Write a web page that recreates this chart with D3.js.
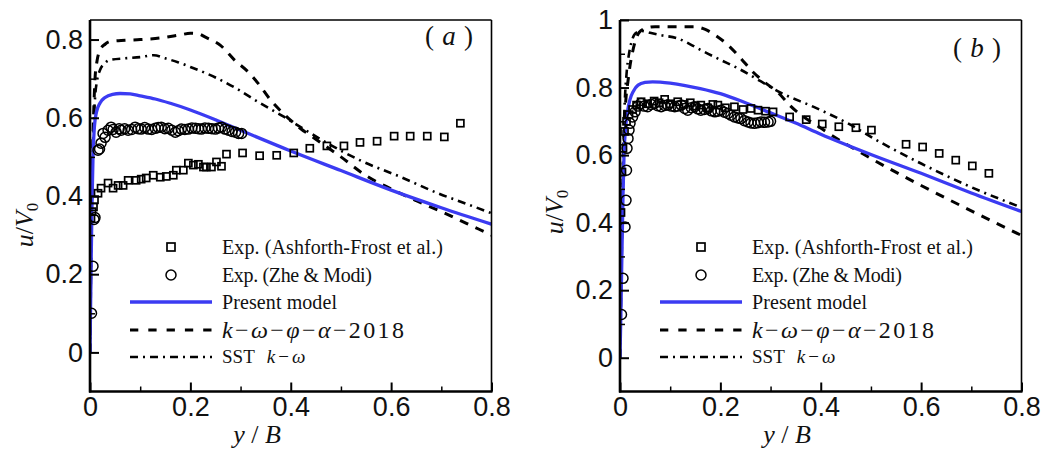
<!DOCTYPE html>
<html lang="en">
<head>
<meta charset="UTF-8" />
<script src="https://d3js.org/d3.v7.min.js"></script>
<style>
  body { margin: 0; overflow: hidden; background: white; }
  svg { background-color: white; }
  .tick text { font-family: "Liberation Sans", Arial, sans-serif; font-size: 27px; fill: #111; }
  .serif { font-family: "Liberation Serif", "Times New Roman", serif; fill: #111; }
</style>
</head>
<body>
<script>
// ---- panel (a) data: [y/B, u/V0] ----
const aAshforth = [[0.002,0.343],[0.004,0.36],[0.007,0.372],[0.009,0.39],[0.016,0.407],[0.022,0.42],[0.036,0.433],[0.046,0.42],[0.056,0.427],[0.066,0.427],[0.076,0.44],[0.092,0.44],[0.102,0.443],[0.112,0.446],[0.126,0.453],[0.14,0.448],[0.152,0.45],[0.166,0.453],[0.172,0.466],[0.186,0.466],[0.196,0.484],[0.206,0.479],[0.216,0.481],[0.226,0.474],[0.232,0.474],[0.242,0.474],[0.252,0.487],[0.262,0.476],[0.272,0.507],[0.304,0.51],[0.338,0.503],[0.372,0.504],[0.406,0.51],[0.438,0.522],[0.472,0.528],[0.506,0.528],[0.538,0.537],[0.572,0.54],[0.606,0.553],[0.638,0.553],[0.672,0.553],[0.706,0.551],[0.738,0.586]];
const aZhe = [[0.003,0.1],[0.006,0.22],[0.008,0.34],[0.01,0.345],[0.016,0.517],[0.019,0.52],[0.022,0.535],[0.026,0.56],[0.03,0.55],[0.036,0.568],[0.042,0.576],[0.046,0.57],[0.052,0.563],[0.058,0.572],[0.062,0.568],[0.069,0.572],[0.076,0.568],[0.083,0.57],[0.09,0.576],[0.096,0.572],[0.102,0.571],[0.109,0.575],[0.116,0.571],[0.123,0.57],[0.13,0.573],[0.136,0.575],[0.142,0.576],[0.149,0.572],[0.156,0.573],[0.163,0.568],[0.17,0.563],[0.176,0.567],[0.182,0.571],[0.189,0.57],[0.196,0.571],[0.203,0.574],[0.21,0.573],[0.216,0.572],[0.222,0.571],[0.229,0.574],[0.236,0.573],[0.243,0.572],[0.25,0.571],[0.256,0.574],[0.262,0.576],[0.269,0.571],[0.276,0.568],[0.283,0.565],[0.29,0.563],[0.296,0.56],[0.302,0.56]];
const aPresent = [[0,0],[0.002,0.2],[0.004,0.38],[0.006,0.5],[0.009,0.58],[0.013,0.615],[0.02,0.638],[0.03,0.652],[0.045,0.66],[0.06,0.662],[0.08,0.661],[0.1,0.656],[0.13,0.648],[0.16,0.637],[0.2,0.62],[0.25,0.595],[0.3,0.568],[0.4,0.515],[0.5,0.465],[0.6,0.415],[0.7,0.37],[0.8,0.328]];
const aKOmega = [[0,0],[0.002,0.25],[0.004,0.45],[0.007,0.6],[0.01,0.7],[0.014,0.745],[0.02,0.773],[0.03,0.788],[0.04,0.795],[0.07,0.798],[0.1,0.8],[0.14,0.804],[0.18,0.812],[0.2,0.816],[0.215,0.815],[0.23,0.806],[0.26,0.785],[0.29,0.745],[0.313,0.72],[0.335,0.688],[0.36,0.645],[0.39,0.605],[0.42,0.572],[0.45,0.545],[0.5,0.5],[0.55,0.452],[0.6,0.418],[0.65,0.388],[0.7,0.36],[0.75,0.33],[0.8,0.3]];
const aSST = [[0,0],[0.002,0.22],[0.004,0.42],[0.007,0.57],[0.01,0.65],[0.014,0.695],[0.02,0.722],[0.03,0.74],[0.04,0.748],[0.07,0.752],[0.1,0.755],[0.127,0.76],[0.15,0.752],[0.175,0.742],[0.2,0.73],[0.25,0.703],[0.29,0.676],[0.333,0.642],[0.387,0.602],[0.43,0.568],[0.473,0.535],[0.54,0.49],[0.62,0.448],[0.693,0.407],[0.75,0.38],[0.8,0.356]];

// ---- panel (b) data ----
const bAshforth = [[0.002,0.43],[0.004,0.55],[0.006,0.62],[0.009,0.67],[0.013,0.7],[0.018,0.72],[0.025,0.735],[0.033,0.748],[0.042,0.758],[0.055,0.752],[0.068,0.76],[0.078,0.755],[0.089,0.765],[0.1,0.752],[0.115,0.758],[0.128,0.75],[0.14,0.755],[0.15,0.745],[0.161,0.748],[0.175,0.74],[0.185,0.75],[0.195,0.748],[0.21,0.74],[0.228,0.743],[0.245,0.735],[0.261,0.738],[0.275,0.733],[0.29,0.73],[0.305,0.728],[0.338,0.713],[0.371,0.705],[0.403,0.692],[0.436,0.684],[0.47,0.681],[0.501,0.674],[0.57,0.632],[0.603,0.624],[0.636,0.605],[0.669,0.585],[0.702,0.568],[0.735,0.546]];
const bZhe = [[0.003,0.128],[0.006,0.235],[0.01,0.387],[0.012,0.466],[0.013,0.555],[0.014,0.62],[0.016,0.649],[0.018,0.674],[0.02,0.694],[0.025,0.713],[0.03,0.728],[0.036,0.745],[0.042,0.753],[0.048,0.745],[0.055,0.743],[0.062,0.75],[0.069,0.753],[0.075,0.746],[0.082,0.743],[0.089,0.747],[0.095,0.748],[0.102,0.745],[0.109,0.743],[0.115,0.745],[0.122,0.748],[0.129,0.738],[0.135,0.733],[0.142,0.74],[0.149,0.743],[0.155,0.737],[0.161,0.733],[0.168,0.735],[0.175,0.738],[0.182,0.731],[0.189,0.728],[0.195,0.73],[0.201,0.733],[0.208,0.727],[0.215,0.723],[0.221,0.718],[0.228,0.713],[0.235,0.71],[0.241,0.708],[0.248,0.702],[0.255,0.698],[0.261,0.695],[0.268,0.694],[0.275,0.696],[0.281,0.698],[0.288,0.697],[0.295,0.698],[0.3,0.7]];
const bPresent = [[0,0],[0.002,0.15],[0.004,0.32],[0.006,0.48],[0.008,0.6],[0.011,0.68],[0.015,0.73],[0.02,0.765],[0.027,0.79],[0.036,0.807],[0.05,0.815],[0.065,0.817],[0.08,0.816],[0.1,0.813],[0.13,0.806],[0.16,0.797],[0.2,0.782],[0.25,0.755],[0.3,0.725],[0.35,0.695],[0.4,0.662],[0.5,0.602],[0.6,0.546],[0.7,0.488],[0.8,0.433]];
const bKOmega = [[0,0],[0.003,0.3],[0.006,0.55],[0.009,0.7],[0.012,0.77],[0.016,0.82],[0.02,0.865],[0.025,0.905],[0.03,0.935],[0.038,0.963],[0.05,0.975],[0.07,0.98],[0.1,0.98],[0.148,0.98],[0.17,0.972],[0.19,0.955],[0.215,0.926],[0.241,0.886],[0.261,0.852],[0.287,0.817],[0.315,0.785],[0.34,0.745],[0.4,0.68],[0.5,0.59],[0.6,0.51],[0.7,0.435],[0.8,0.362]];
const bSST = [[0,0],[0.003,0.32],[0.006,0.58],[0.009,0.74],[0.013,0.84],[0.018,0.9],[0.023,0.935],[0.028,0.955],[0.035,0.965],[0.042,0.968],[0.06,0.962],[0.082,0.955],[0.116,0.945],[0.14,0.928],[0.161,0.911],[0.2,0.882],[0.235,0.857],[0.281,0.818],[0.32,0.785],[0.387,0.742],[0.454,0.694],[0.52,0.637],[0.6,0.575],[0.7,0.505],[0.8,0.445]];

// ---- ticks / labels ----
const xTicks = [0, 0.2, 0.4, 0.6, 0.8];
const xMinor = [0.1, 0.3, 0.5, 0.7];
const aYTicks = [0, 0.2, 0.4, 0.6, 0.8];
const aYMinor = [0.1, 0.3, 0.5, 0.7];
const bYTicks = [0, 0.2, 0.4, 0.6, 0.8, 1];
const bYMinor = [0.1, 0.3, 0.5, 0.7, 0.9];
const legendNames = ["Exp. (Ashforth-Frost et al.)", "Exp. (Zhe & Modi)", "Present model"];

const width = 1046, height = 455;
const svg = d3.select('body').append('svg')
  .attr('width', width).attr('height', height);

const BLUE = "#3b3bf2";

const panels = [
  { left: 90, right: 491.5, yDom: [-0.1, 0.85], yT: aYTicks, yM: aYMinor,
    sq: aAshforth, ci: aZhe, pm: aPresent, ko: aKOmega, sst: aSST,
    tag: "a", tagX: 425, tagY: 45, yTitleY: 225 },
  { left: 620, right: 1021.5, yDom: [-0.1, 1.0], yT: bYTicks, yM: bYMinor,
    sq: bAshforth, ci: bZhe, pm: bPresent, ko: bKOmega, sst: bSST,
    tag: "b", tagX: 953, tagY: 57, yTitleY: 212 }
];
const plotTop = 20, plotBottom = 391.5;

panels.forEach((p, i) => {
  const x = d3.scaleLinear().domain([0, 0.8]).range([p.left, p.right]);
  const y = d3.scaleLinear().domain(p.yDom).range([plotBottom, plotTop]);
  const g = svg.append('g');

  const clipId = 'clip' + i;
  svg.append('clipPath').attr('id', clipId).append('rect')
    .attr('x', p.left).attr('y', plotTop).attr('width', p.right - p.left).attr('height', plotBottom - plotTop);

  const line = d3.line().x(d => x(d[0])).y(d => y(d[1])).curve(d3.curveMonotoneX);
  const plot = g.append('g').attr('clip-path', `url(#${clipId})`);

  // curves
  plot.append('path').datum(p.sst).attr('d', line)
    .attr('fill', 'none').attr('stroke', '#000').attr('stroke-width', 2.6)
    .attr('stroke-dasharray', '8,5,2,5');
  plot.append('path').datum(p.ko).attr('d', line)
    .attr('fill', 'none').attr('stroke', '#000').attr('stroke-width', 3)
    .attr('stroke-dasharray', '9,8');
  plot.append('path').datum(p.pm).attr('d', line)
    .attr('fill', 'none').attr('stroke', BLUE).attr('stroke-width', 3.3);

  // experiments
  plot.selectAll('rect.sq').data(p.sq).join('rect').attr('class', 'sq')
    .attr('x', d => x(d[0]) - 3.5).attr('y', d => y(d[1]) - 3.5)
    .attr('width', 7).attr('height', 7)
    .attr('fill', 'none').attr('stroke', '#000').attr('stroke-width', 1.7);
  plot.selectAll('circle.ci').data(p.ci).join('circle').attr('class', 'ci')
    .attr('cx', d => x(d[0])).attr('cy', d => y(d[1])).attr('r', 5)
    .attr('fill', 'none').attr('stroke', '#000').attr('stroke-width', 1.5);

  // axes, ticks inside
  g.append('g').attr('transform', `translate(0,${plotBottom})`)
    .call(d3.axisBottom(x).tickValues(xTicks).tickSizeInner(-9).tickSizeOuter(0).tickPadding(5)
      .tickFormat(d => d === 0 ? "0" : d3.format(".1f")(d)))
    .call(a => a.select('.domain').remove())
    .call(a => a.selectAll('.tick line').attr('stroke-width', 2));
  g.append('g').attr('transform', `translate(0,${plotBottom})`)
    .call(d3.axisBottom(x).tickValues(xMinor).tickSizeInner(-5).tickSizeOuter(0).tickFormat(''))
    .call(a => a.select('.domain').remove())
    .call(a => a.selectAll('.tick line').attr('stroke-width', 1.5));
  g.append('g').attr('transform', `translate(${p.left},0)`)
    .call(d3.axisLeft(y).tickValues(p.yT).tickSizeInner(-9).tickSizeOuter(0).tickPadding(7)
      .tickFormat(d => (d === 0 || d === 1) ? String(d) : d3.format(".1f")(d)))
    .call(a => a.select('.domain').remove())
    .call(a => a.selectAll('.tick line').attr('stroke-width', 2));
  g.append('g').attr('transform', `translate(${p.left},0)`)
    .call(d3.axisLeft(y).tickValues(p.yM).tickSizeInner(-5).tickSizeOuter(0).tickFormat(''))
    .call(a => a.select('.domain').remove())
    .call(a => a.selectAll('.tick line').attr('stroke-width', 1.5));

  // frame
  g.append('line').attr('x1', p.left).attr('x2', p.right).attr('y1', plotTop).attr('y2', plotTop)
    .attr('stroke', '#000').attr('stroke-width', 1.6);
  g.append('line').attr('x1', p.right).attr('x2', p.right).attr('y1', plotTop).attr('y2', plotBottom)
    .attr('stroke', '#000').attr('stroke-width', 1.6);
  g.append('line').attr('x1', p.left).attr('x2', p.left).attr('y1', plotTop).attr('y2', plotBottom + 1)
    .attr('stroke', '#000').attr('stroke-width', 2.6);
  g.append('line').attr('x1', p.left - 1).attr('x2', p.right + 1).attr('y1', plotBottom).attr('y2', plotBottom)
    .attr('stroke', '#000').attr('stroke-width', 2.6);

  // legend
  const lx0 = p.left + 40, lx1 = p.left + 122, lm = (lx0 + lx1) / 2, tx = p.left + 132;
  const rows = [247, 275, 302, 330, 357];
  g.append('rect').attr('x', lm - 4).attr('y', rows[0] - 4).attr('width', 8).attr('height', 8)
    .attr('fill', 'none').attr('stroke', '#000').attr('stroke-width', 1.7);
  g.append('circle').attr('cx', lm).attr('cy', rows[1]).attr('r', 5)
    .attr('fill', 'none').attr('stroke', '#000').attr('stroke-width', 1.5);
  g.append('line').attr('x1', lx0).attr('x2', lx1).attr('y1', rows[2]).attr('y2', rows[2])
    .attr('stroke', BLUE).attr('stroke-width', 3.3);
  g.append('line').attr('x1', lx0).attr('x2', lx1).attr('y1', rows[3]).attr('y2', rows[3])
    .attr('stroke', '#000').attr('stroke-width', 3).attr('stroke-dasharray', '8.3,10');
  g.append('line').attr('x1', lx0).attr('x2', lx1).attr('y1', rows[4]).attr('y2', rows[4])
    .attr('stroke', '#000').attr('stroke-width', 2.6).attr('stroke-dasharray', '8,5,2,5');

  const widths = [221, 150, 115];
  legendNames.forEach((t, k) => {
    g.append('text').attr('class', 'serif').attr('x', tx).attr('y', rows[k] + 6.5)
      .attr('font-size', 20).attr('textLength', widths[k]).attr('lengthAdjust', 'spacing')
      .text(t);
  });
  const t4 = g.append('text').attr('class', 'serif').attr('x', tx).attr('y', rows[3] + 8)
    .attr('font-size', 24).attr('textLength', 182).attr('lengthAdjust', 'spacing');
  [["k", true], ["\u2212", false], ["\u03c9", true], ["\u2212", false], ["\u03c6", true],
   ["\u2212", false], ["\u03b1", true], ["\u2212", false], ["2018", false]].forEach(([s, it]) => {
    t4.append('tspan').attr('font-style', it ? 'italic' : 'normal').text(s);
  });
  const t5 = g.append('text').attr('class', 'serif').attr('x', tx).attr('y', rows[4] + 6)
    .attr('font-size', 19);
  t5.append('tspan').text('SST');
  t5.append('tspan').attr('dx', 12).attr('font-style', 'italic').text('k');
  t5.append('tspan').attr('dx', 3).text('\u2212');
  t5.append('tspan').attr('dx', 3).attr('font-style', 'italic').text('\u03c9');

  // panel tag
  const tg = g.append('text').attr('class', 'serif').attr('x', p.tagX).attr('y', p.tagY)
    .attr('font-size', 27).attr('textLength', 48).attr('lengthAdjust', 'spacing');
  tg.append('tspan').text('( ');
  tg.append('tspan').attr('font-style', 'italic').text(p.tag);
  tg.append('tspan').text(' )');

  // axis titles
  const xt = g.append('text').attr('class', 'serif').attr('x', p.left + 167).attr('y', 443)
    .attr('text-anchor', 'middle').attr('font-size', 26);
  xt.append('tspan').attr('font-style', 'italic').text('y');
  xt.append('tspan').text(' / ');
  xt.append('tspan').attr('font-style', 'italic').text('B');

  const yt = g.append('text').attr('class', 'serif')
    .attr('transform', `translate(${p.left - 57},${p.yTitleY}) rotate(-90)`)
    .attr('text-anchor', 'middle').attr('font-size', 26);
  yt.append('tspan').attr('font-style', 'italic').text('u');
  yt.append('tspan').text('/');
  yt.append('tspan').attr('font-style', 'italic').text('V');
  yt.append('tspan').attr('font-size', 17).attr('dy', 5).text('0');
});
</script>
</body>
</html>
